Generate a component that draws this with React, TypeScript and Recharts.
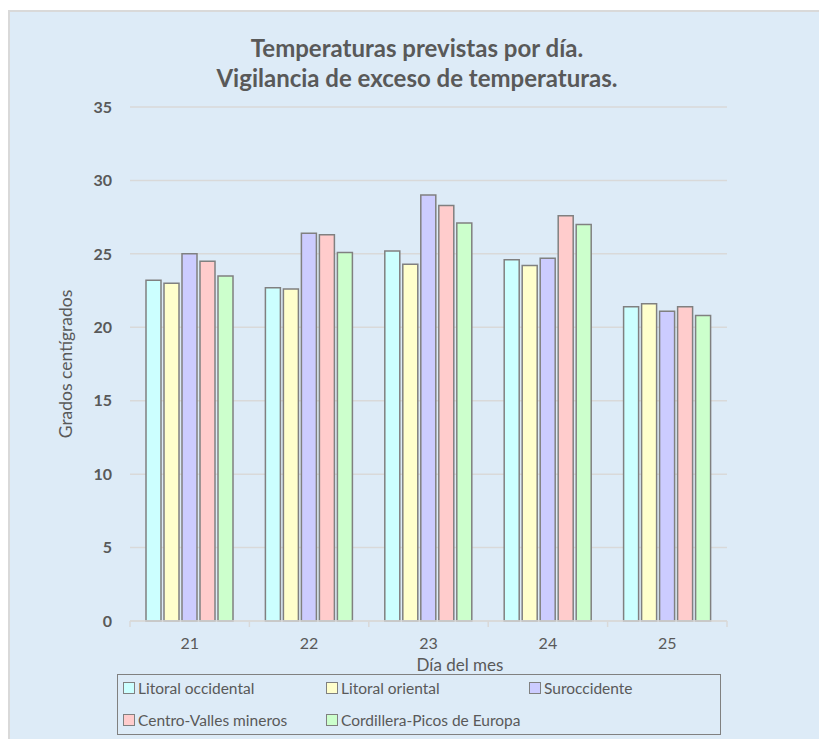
import React from 'react';
import { BarChart, Bar, XAxis, YAxis, CartesianGrid } from 'recharts';

const days = ['21', '22', '23', '24', '25'];

const litoralOccidental = [23.2, 22.7, 25.2, 24.6, 21.4];
const litoralOriental = [23.0, 22.6, 24.3, 24.2, 21.6];
const suroccidente = [25.0, 26.4, 29.0, 24.7, 21.1];
const centroValles = [24.5, 26.3, 28.3, 27.6, 21.4];
const cordillera = [23.5, 25.1, 27.1, 27.0, 20.8];

const yTicks = [0, 5, 10, 15, 20, 25, 30, 35];

const SERIES = [
  { key: 'lo', name: 'Litoral occidental', values: litoralOccidental, color: '#CCFFFF' },
  { key: 'lr', name: 'Litoral oriental', values: litoralOriental, color: '#FFFFCC' },
  { key: 'su', name: 'Suroccidente', values: suroccidente, color: '#CCCCFF' },
  { key: 'cv', name: 'Centro-Valles mineros', values: centroValles, color: '#FFCCCC' },
  { key: 'co', name: 'Cordillera-Picos de Europa', values: cordillera, color: '#CCFFCC' },
];

const data = days.map((d, i) => {
  const row: Record<string, string | number> = { day: d };
  SERIES.forEach(s => { row[s.key] = s.values[i]; });
  return row;
});

const FONT = 'Lato, "Open Sans", sans-serif';
const TEXT = '#595959';
const GRID = '#D9D9D9';
const BG = '#DDEBF7';
const EDGE = '#808080';

// category label plus the little tick marks between categories
const XTick = (props: any) => {
  const { x, y, payload, index, visibleTicksCount } = props;
  const half = payload && payload.offset ? payload.offset : 59.7;
  const last = index === visibleTicksCount - 1;
  return (
    <g>
      <line x1={x - half} x2={x - half} y1={y} y2={y + 6} stroke={GRID} strokeWidth={1.5} />
      {last && <line x1={x + half} x2={x + half} y1={y} y2={y + 6} stroke={GRID} strokeWidth={1.5} />}
      <text x={x} y={y + 28} textAnchor="middle" fill={TEXT} fontSize={16} fontFamily={FONT}>
        {payload.value}
      </text>
    </g>
  );
};

const App: React.FC = () => {
  return (
    <div
      style={{
        position: 'fixed',
        left: 8,
        top: 10,
        width: 811,
        height: 729,
        background: BG,
        borderTop: '2px solid #D9D9D9',
        borderLeft: '2px solid #D9D9D9',
        boxSizing: 'border-box',
        fontFamily: FONT,
      }}
    >
      <div
        style={{
          position: 'absolute',
          left: 8,
          top: 21,
          width: 798,
          textAlign: 'center',
          color: TEXT,
          fontWeight: 700,
          fontSize: 24,
          lineHeight: '30px',
        }}
      >
        Temperaturas previstas por día.
        <br />
        Vigilancia de exceso de temperaturas.
      </div>

      <div style={{ position: 'absolute', left: -2, top: -2 }}>
        <BarChart
          width={811}
          height={729}
          data={data}
          margin={{ top: 97, right: 92, bottom: 88, left: 0 }}
          barCategoryGap={16}
          barGap={3}
        >
          <CartesianGrid vertical={false} stroke={GRID} strokeWidth={1.5} />
          <XAxis
            dataKey="day"
            axisLine={{ stroke: GRID, strokeWidth: 1.5 }}
            tickLine={false}
            tickSize={0}
            tickMargin={0}
            height={30}
            tick={<XTick />}
            interval={0}
          />
          <YAxis
            width={122}
            domain={[0, 35]}
            ticks={yTicks}
            axisLine={false}
            tickLine={false}
            tickSize={0}
            tickMargin={18}
            tick={{ fill: TEXT, fontSize: 16, fontWeight: 700, fontFamily: FONT }}
            label={{
              value: 'Grados centígrados',
              angle: -90,
              position: 'insideLeft',
              dx: 53,
              fill: TEXT,
              fontSize: 17.5,
              fontFamily: FONT,
              style: { textAnchor: 'middle' },
            }}
          />
          {SERIES.map(s => (
            <Bar
              key={s.key}
              dataKey={s.key}
              name={s.name}
              fill={s.color}
              stroke={EDGE}
              strokeWidth={1.5}
              isAnimationActive={false}
            />
          ))}
        </BarChart>
      </div>

      <div
        style={{
          position: 'absolute',
          left: 350,
          top: 643,
          width: 200,
          textAlign: 'center',
          color: TEXT,
          fontSize: 17,
          lineHeight: '20px',
        }}
      >
        Día del mes
      </div>

      <div
        style={{
          position: 'absolute',
          left: 107,
          top: 662,
          width: 604,
          height: 61,
          border: `1.5px solid ${EDGE}`,
          boxSizing: 'border-box',
          color: TEXT,
          fontSize: 15.5,
        }}
      >
        {SERIES.map((s, i) => (
          <div
            key={s.key}
            style={{
              position: 'absolute',
              left: 5 + (i % 3) * 203,
              top: i < 3 ? 3 : 35,
              display: 'flex',
              alignItems: 'center',
              lineHeight: '20px',
              whiteSpace: 'nowrap',
            }}
          >
            <span
              style={{
                display: 'inline-block',
                width: 10,
                height: 10,
                background: s.color,
                border: `1px solid ${EDGE}`,
                marginRight: 3,
              }}
            />
            {s.name}
          </div>
        ))}
      </div>
    </div>
  );
};

export default App;
